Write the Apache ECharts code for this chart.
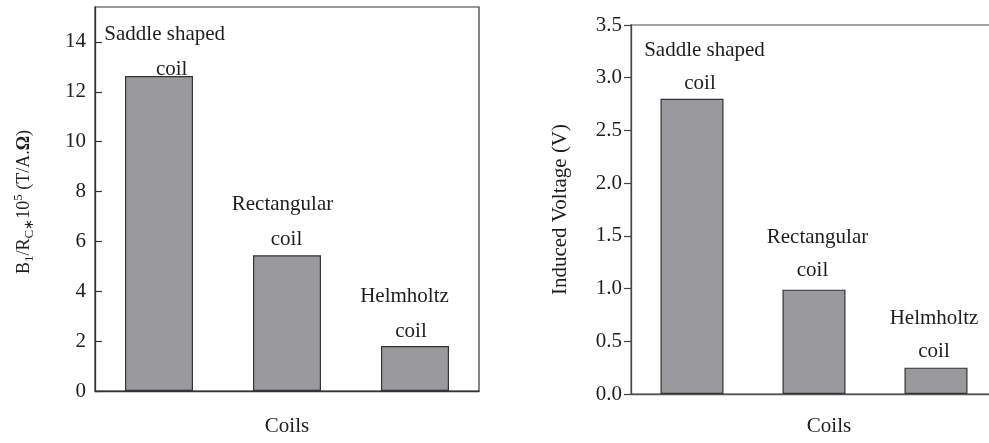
<!DOCTYPE html>
<html>
<head>
<meta charset="utf-8">
<script src="https://cdn.jsdelivr.net/npm/echarts@6/dist/echarts.min.js"></script>
<style>
html,body{margin:0;padding:0;background:#fff;}
#c{width:989px;height:443px;}
</style>
</head>
<body>
<div id="c"></div>
<script>
// ---- data ----
const categories = ['Saddle shaped coil', 'Rectangular coil', 'Helmholtz coil'];
const labelTitles = ['Saddle shaped', 'Rectangular', 'Helmholtz'];
const labelSub = 'coil';
const fieldPerResistance = [12.63, 5.44, 1.8];   // B1/RC*10^5 (T/A.Ω)
const inducedVoltage = [2.8, 0.99, 0.25];        // V
const leftAxisMax = 15.4, leftAxisInterval = 2;
const rightAxisMax = 3.5, rightAxisInterval = 0.5;

// ---- styles ----
const FONT = "'Liberation Serif', 'Times New Roman', serif";
const TXT = '#1e1e1e';
const leftLabelLayout = [
  {dx: 5.7, dy: 3.5, pad: [0, 0, 0, 14]},
  {dx: -4.5, dy: -5, pad: [0, 0, 0, 8]},
  {dx: -10.5, dy: -4, pad: [0, 0, 0, 13]}
];
const rightLabelLayout = [
  {dx: 12.5, dy: -4.5, pad: [0, 9, 0, 0]},
  {dx: 3.5, dy: -8.5, pad: [0, 10, 0, 0]},
  {dx: -2, dy: -5.5, pad: [0, 0, 0, 0]}
];

function buildData(values, layout, titleLH) {
  return values.map((v, i) => ({
    value: v,
    label: {
      show: true,
      position: 'top',
      distance: 0,
      offset: [layout[i].dx, layout[i].dy],
      formatter: '{t|' + labelTitles[i] + '}\n{c|' + labelSub + '}',
      rich: {
        t: {fontFamily: FONT, fontSize: 21, color: TXT, lineHeight: titleLH},
        c: {fontFamily: FONT, fontSize: 21, color: TXT, lineHeight: 21, padding: layout[i].pad}
      }
    }
  }));
}

const barItem = {color: '#9a9a9e', borderColor: '#333', borderWidth: 1.2};

const chart = echarts.init(document.getElementById('c'), null, {renderer: 'canvas'});
chart.setOption({
  animation: false,
  backgroundColor: '#fff',
  textStyle: {fontFamily: FONT},
  grid: [
    {left: 95, top: 7, width: 384, height: 384, show: true, borderColor: '#333', borderWidth: 1.2,
     backgroundColor: 'transparent', containLabel: false, outerBoundsMode: 'none'},
    {left: 631, top: 25, width: 366, height: 369, show: true, borderColor: '#888', borderWidth: 1.4,
     backgroundColor: 'transparent', containLabel: false, outerBoundsMode: 'none'}
  ],
  xAxis: [
    {
      type: 'category', gridIndex: 0, data: categories,
      axisLine: {lineStyle: {color: '#333', width: 1.3}},
      axisTick: {show: false}, axisLabel: {show: false}, splitLine: {show: false},
      name: 'Coils', nameLocation: 'middle', nameGap: 25,
      nameTextStyle: {fontFamily: FONT, fontSize: 21, color: TXT}
    },
    {
      type: 'category', gridIndex: 1, data: categories,
      axisLine: {lineStyle: {color: '#555', width: 1.3}},
      axisTick: {show: false}, axisLabel: {show: false}, splitLine: {show: false},
      name: 'Coils', nameLocation: 'middle', nameGap: 22,
      nameTextStyle: {fontFamily: FONT, fontSize: 21, color: TXT, padding: [0, 0, 0, 30]}
    }
  ],
  yAxis: [
    {
      type: 'value', gridIndex: 0, min: 0, max: leftAxisMax, interval: leftAxisInterval,
      axisLine: {show: true, lineStyle: {color: '#333', width: 1.3}},
      axisTick: {show: true, inside: true, length: 7, lineStyle: {color: '#333', width: 1.2}},
      axisLabel: {fontFamily: FONT, fontSize: 21, color: TXT, margin: 9, showMaxLabel: false},
      splitLine: {show: false},
      name: '{n|B}{sb|1}{n|/R}{sb|C}{st|∗}{n|10}{sp|5}{n| (T/A.}{om|Ω}{n|)}',
      nameLocation: 'middle', nameRotate: 90, nameGap: 59,
      nameTextStyle: {
        fontFamily: FONT, fontSize: 18, color: TXT, padding: [0, 6, 0, 0],
        rich: {
          n: {fontFamily: FONT, fontSize: 18, color: TXT, lineHeight: 24, verticalAlign: 'middle'},
          sb: {fontFamily: FONT, fontSize: 13, color: TXT, lineHeight: 13, verticalAlign: 'bottom'},
          st: {fontFamily: FONT, fontSize: 13, color: TXT, lineHeight: 16, verticalAlign: 'bottom'},
          sp: {fontFamily: FONT, fontSize: 13, color: TXT, lineHeight: 13, verticalAlign: 'top'},
          om: {fontFamily: FONT, fontSize: 18, color: TXT, lineHeight: 24, verticalAlign: 'middle', fontWeight: 'bold'}
        }
      }
    },
    {
      type: 'value', gridIndex: 1, min: 0, max: rightAxisMax, interval: rightAxisInterval,
      axisLine: {show: true, lineStyle: {color: '#444', width: 1.3}},
      axisTick: {show: true, inside: false, length: 7, lineStyle: {color: '#444', width: 1.2}},
      axisLabel: {fontFamily: FONT, fontSize: 21, color: TXT, margin: 9, formatter: v => v.toFixed(1)},
      splitLine: {show: false},
      name: 'Induced Voltage (V)', nameLocation: 'middle', nameRotate: 90, nameGap: 60,
      nameTextStyle: {fontFamily: FONT, fontSize: 21, color: TXT}
    }
  ],
  series: [
    {
      type: 'bar', xAxisIndex: 0, yAxisIndex: 0, barWidth: 68,
      itemStyle: barItem,
      data: buildData(fieldPerResistance, leftLabelLayout, 49)
    },
    {
      type: 'bar', xAxisIndex: 1, yAxisIndex: 1, barWidth: 63,
      itemStyle: barItem,
      data: buildData(inducedVoltage, rightLabelLayout, 45)
    }
  ]
});
</script>
</body>
</html>
